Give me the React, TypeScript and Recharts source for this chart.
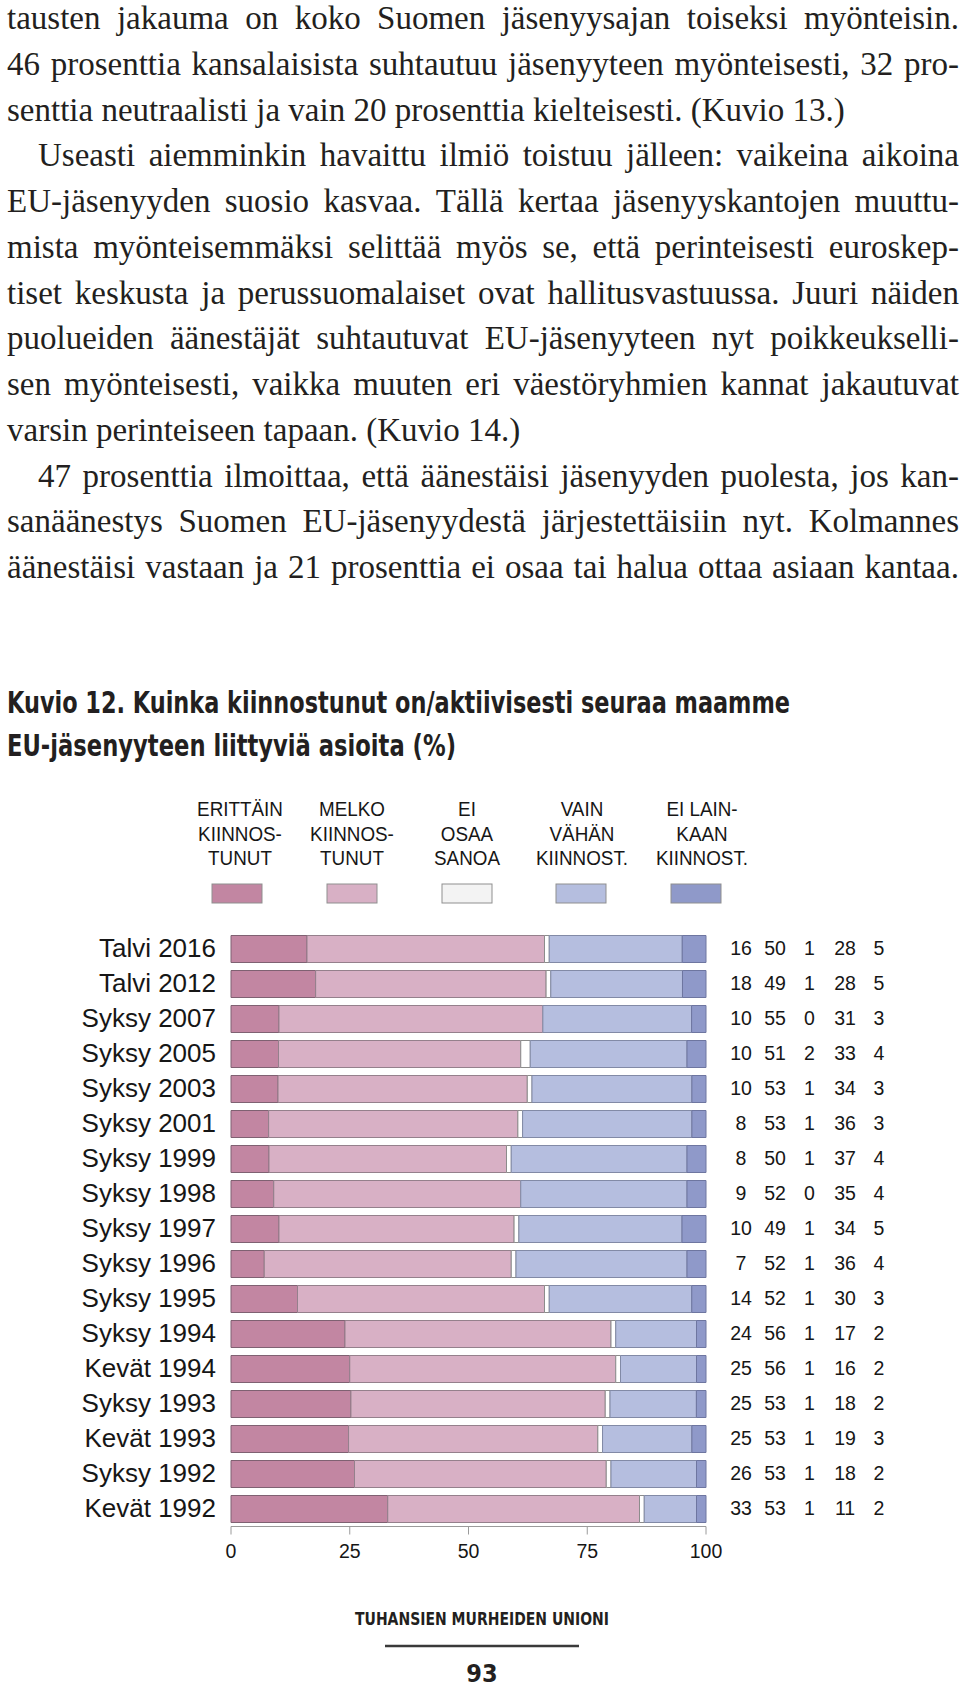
import { BarChart, Bar, XAxis, YAxis } from 'recharts';

// survey rounds, top to bottom
const periods = [
  'Talvi 2016', 'Talvi 2012', 'Syksy 2007', 'Syksy 2005', 'Syksy 2003', 'Syksy 2001',
  'Syksy 1999', 'Syksy 1998', 'Syksy 1997', 'Syksy 1996', 'Syksy 1995', 'Syksy 1994',
  'Kevät 1994', 'Syksy 1993', 'Kevät 1993', 'Syksy 1992', 'Kevät 1992',
];
const erittain = [16, 18, 10, 10, 10, 8, 8, 9, 10, 7, 14, 24, 25, 25, 25, 26, 33];
const melko = [50, 49, 55, 51, 53, 53, 50, 52, 49, 52, 52, 56, 56, 53, 53, 53, 53];
const eiOsaa = [1, 1, 0, 2, 1, 1, 1, 0, 1, 1, 1, 1, 1, 1, 1, 1, 1];
const vainVahan = [28, 28, 31, 33, 34, 36, 37, 35, 34, 36, 30, 17, 16, 18, 19, 18, 11];
const eiLainkaan = [5, 5, 3, 4, 3, 3, 4, 4, 5, 4, 3, 2, 2, 2, 3, 2, 2];

const xTicks = [0, 25, 50, 75, 100];

const legendLabels = [
  ['ERITTÄIN', 'KIINNOS-', 'TUNUT'],
  ['MELKO', 'KIINNOS-', 'TUNUT'],
  ['EI', 'OSAA', 'SANOA'],
  ['VAIN', 'VÄHÄN', 'KIINNOST.'],
  ['EI LAIN-', 'KAAN', 'KIINNOST.'],
];

const seriesKeys = ['erittain', 'melko', 'eiOsaa', 'vainVahan', 'eiLainkaan'];
const seriesValues = [erittain, melko, eiOsaa, vainVahan, eiLainkaan];
const barFills = ['#c286a2', '#d8b0c5', '#ffffff', '#b5bedf', '#8f99c9'];
const barStrokes = ['#7f6172', '#95808c', '#8c8c8c', '#828aa6', '#6e76a0'];
const swatchFills = ['#c286a2', '#d8b0c5', '#f3f3f3', '#b5bedf', '#8f99c9'];

const bodyLines = [
  { text: 'tausten jakauma on koko Suomen jäsenyysajan toiseksi myönteisin.' },
  { text: '46 prosenttia kansalaisista suhtautuu jäsenyyteen myönteisesti, 32 pro-' },
  { text: 'senttia neutraalisti ja vain 20 prosenttia kielteisesti. (Kuvio 13.)', last: true },
  { text: 'Useasti aiemminkin havaittu ilmiö toistuu jälleen: vaikeina aikoina', indent: true },
  { text: 'EU-jäsenyyden suosio kasvaa. Tällä kertaa jäsenyyskantojen muuttu-' },
  { text: 'mista myönteisemmäksi selittää myös se, että perinteisesti euroskep-' },
  { text: 'tiset keskusta ja perussuomalaiset ovat hallitusvastuussa. Juuri näiden' },
  { text: 'puolueiden äänestäjät suhtautuvat EU-jäsenyyteen nyt poikkeukselli-' },
  { text: 'sen myönteisesti, vaikka muuten eri väestöryhmien kannat jakautuvat' },
  { text: 'varsin perinteiseen tapaan. (Kuvio 14.)', last: true },
  { text: '47 prosenttia ilmoittaa, että äänestäisi jäsenyyden puolesta, jos kan-', indent: true },
  { text: 'sanäänestys Suomen EU-jäsenyydestä järjestettäisiin nyt. Kolmannes' },
  { text: 'äänestäisi vastaan ja 21 prosenttia ei osaa tai halua ottaa asiaan kantaa.' },
];

const chartData = periods.map((period, i) => {
  const row: Record<string, string | number> = { period };
  seriesKeys.forEach((k, s) => {
    row[k] = seriesValues[s][i];
  });
  return row;
});

const SANS = "'Liberation Sans', Arial, sans-serif";
const NARROW = "'Liberation Sans Narrow', 'DejaVu Sans Condensed', sans-serif";
const legendX = [240, 352, 467, 582, 702];
const swatchX = [237, 352, 467, 581, 696];
const numOffsets = [35, 69, 103.5, 139, 173];

function PeriodTick(props: any) {
  const { x, y, payload } = props;
  return (
    <text x={x} y={y + 7.5} textAnchor="end" fontSize={26} fontFamily={SANS} fill="#161616">
      {payload.value}
    </text>
  );
}

function NumbersTick(props: any) {
  const { x, y, payload } = props;
  const i = periods.indexOf(payload.value);
  if (i < 0) return null;
  return (
    <g>
      {seriesValues.map((vals, s) => (
        <text
          key={s}
          x={x + numOffsets[s]}
          y={y + 6}
          textAnchor="middle"
          fontSize={19.5}
          fontFamily={SANS}
          fill="#161616"
        >
          {vals[i]}
        </text>
      ))}
    </g>
  );
}

function PercentTick(props: any) {
  const { x, y, payload } = props;
  return (
    <text x={x} y={y + 21} textAnchor="middle" fontSize={19.5} fontFamily={SANS} fill="#161616">
      {Math.round(payload.value * 100)}
    </text>
  );
}

function BodyText() {
  return (
    <div
      style={{
        position: 'absolute',
        left: 7,
        top: 0,
        width: 952,
        fontFamily: "'Liberation Serif', serif",
        fontSize: 33,
        lineHeight: '36.6px',
        color: '#231f20',
      }}
    >
      {bodyLines.map((ln, i) => (
        <div
          key={i}
          style={{
            display: 'flex',
            height: 45.75,
            justifyContent: ln.last ? 'flex-start' : 'space-between',
            paddingLeft: ln.indent ? 31 : 0,
            whiteSpace: 'pre',
          }}
        >
          {ln.last ? <span>{ln.text}</span> : ln.text.split(' ').map((w, j) => <span key={j}>{w}</span>)}
        </div>
      ))}
    </div>
  );
}

export default function App() {
  return (
    <div
      style={{
        position: 'absolute',
        left: 0,
        top: 0,
        width: 960,
        height: 1690,
        background: '#fff',
        overflow: 'hidden',
      }}
    >
      <BodyText />
      <svg width={960} height={1690} style={{ position: 'absolute', left: 0, top: 0 }}>
        <text
          x={7}
          y={713}
          textLength={783}
          lengthAdjust="spacingAndGlyphs"
          fontFamily={NARROW}
          fontWeight="bold"
          fontSize={30}
          fill="#231f20"
        >
          Kuvio 12. Kuinka kiinnostunut on/aktiivisesti seuraa maamme
        </text>
        <text
          x={7}
          y={756}
          textLength={449}
          lengthAdjust="spacingAndGlyphs"
          fontFamily={NARROW}
          fontWeight="bold"
          fontSize={30}
          fill="#231f20"
        >
          EU-jäsenyyteen liittyviä asioita (%)
        </text>

        {legendLabels.map((lines, s) => (
          <g key={s}>
            <g transform={`translate(${legendX[s]} 0) scale(0.92 1)`}>
              {lines.map((t, k) => (
                <text
                  key={k}
                  x={0}
                  y={816 + k * 24.7}
                  textAnchor="middle"
                  fontSize={20.5}
                  fontFamily={SANS}
                  fill="#161616"
                >
                  {t}
                </text>
              ))}
            </g>
            <rect
              x={swatchX[s] - 25}
              y={884}
              width={50}
              height={19}
              fill={swatchFills[s]}
              stroke="#8f8f8f"
              strokeWidth={1}
            />
          </g>
        ))}

        <text
          x={482}
          y={1625}
          textAnchor="middle"
          textLength={254}
          lengthAdjust="spacingAndGlyphs"
          fontFamily={NARROW}
          fontWeight="bold"
          fontSize={18}
          fill="#231f20"
        >
          TUHANSIEN MURHEIDEN UNIONI
        </text>
        <line x1={385} x2={579} y1={1646} y2={1646} stroke="#3a3a3a" strokeWidth={2.5} />
        <text
          x={482}
          y={1682}
          textAnchor="middle"
          fontFamily={NARROW}
          fontWeight="bold"
          fontSize={25}
          fill="#231f20"
        >
          93
        </text>
      </svg>

      <div style={{ position: 'absolute', left: 0, top: 900 }}>
        <BarChart
          width={960}
          height={680}
          data={chartData}
          layout="vertical"
          stackOffset="expand"
          barSize={27}
          margin={{ top: 31.5, right: 0, bottom: 13.5, left: 0 }}
        >
          <XAxis
            type="number"
            domain={[0, 1]}
            ticks={xTicks.map((t) => t / 100)}
            tickSize={8}
            tickMargin={2}
            height={40}
            axisLine={{ stroke: '#9a9a9a' }}
            tickLine={{ stroke: '#9a9a9a' }}
            tick={<PercentTick />}
          />
          <YAxis
            type="category"
            dataKey="period"
            width={231}
            tickSize={0}
            tickMargin={15}
            axisLine={false}
            tickLine={false}
            tick={<PeriodTick />}
            interval={0}
          />
          <YAxis
            yAxisId="nums"
            orientation="right"
            type="category"
            dataKey="period"
            width={254}
            tickSize={0}
            tickMargin={0}
            axisLine={false}
            tickLine={false}
            tick={<NumbersTick />}
            interval={0}
          />
          {seriesKeys.map((k, s) => (
            <Bar
              key={k}
              dataKey={k}
              stackId="a"
              fill={barFills[s]}
              stroke={barStrokes[s]}
              strokeWidth={1}
              isAnimationActive={false}
            />
          ))}
        </BarChart>
      </div>
    </div>
  );
}
